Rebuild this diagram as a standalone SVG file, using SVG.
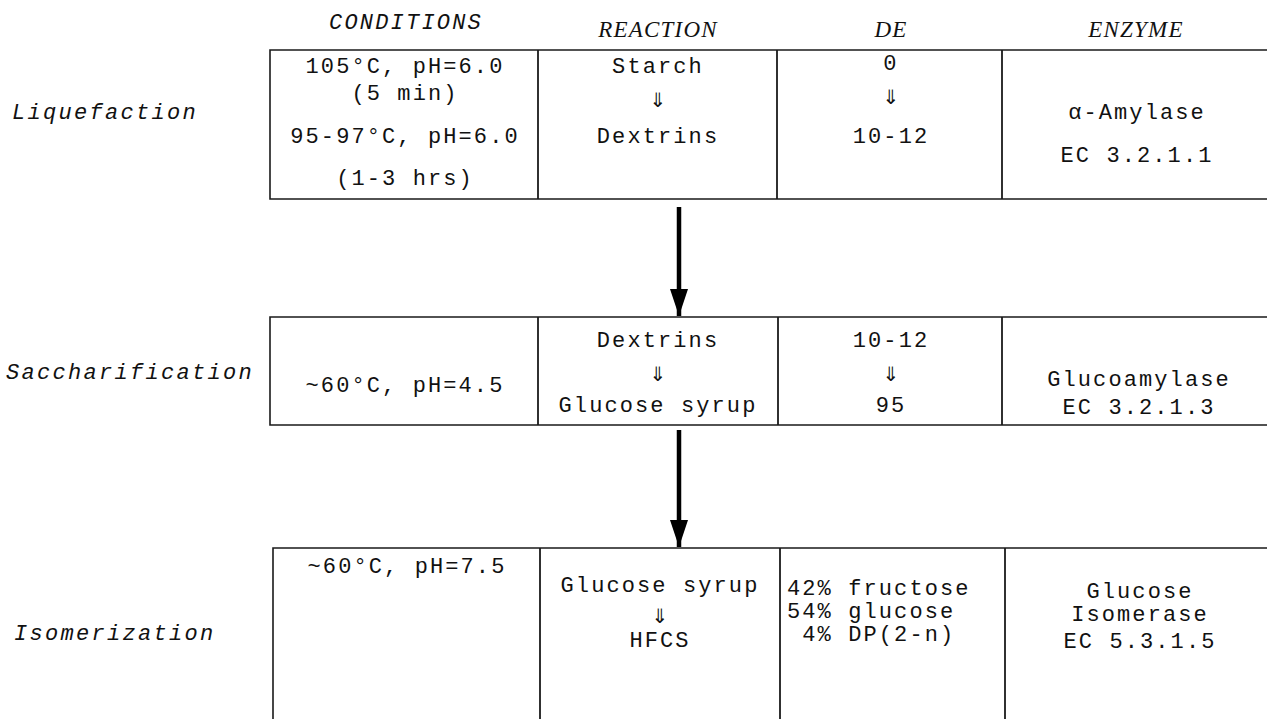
<svg xmlns="http://www.w3.org/2000/svg" width="1267" height="719" viewBox="0 0 1267 719">
  <defs>
    <style>
      .bg { fill: #ffffff; }
      .cell { fill: none; stroke: #1a1a1a; stroke-width: 1.6; }
      .div { stroke: #1a1a1a; stroke-width: 1.8; }
      .txt { font-family: "Liberation Mono", "Courier New", "DejaVu Sans Mono", monospace; font-size: 22px; letter-spacing: 2.1px; fill: #111; text-anchor: middle; }
      .lft { text-anchor: start; }
      .arr { font-family: "DejaVu Sans Mono", "Liberation Mono", monospace; font-size: 27px; fill: #111; text-anchor: middle; }
      .rowlab { font-family: "Liberation Mono", "Courier New", monospace; font-style: italic; font-size: 22px; letter-spacing: 2.3px; fill: #111; text-anchor: start; }
      .hmono { font-family: "Liberation Mono", "Courier New", monospace; font-style: italic; font-size: 22px; letter-spacing: 2.2px; fill: #111; text-anchor: middle; }
      .hserif { font-family: "Liberation Serif", "Times New Roman", serif; font-style: italic; font-size: 23px; letter-spacing: 1.2px; fill: #111; text-anchor: middle; }
      .flow { stroke: #000; stroke-width: 4.5; fill: none; }
    </style>
    <!-- solid triangular head pointing along the line direction -->
    <marker id="head" markerUnits="userSpaceOnUse" markerWidth="28" markerHeight="20" refX="27" refY="10" orient="auto" viewBox="0 0 28 20">
      <path d="M0,1 L27,10 L0,19 Z" fill="#000"/>
    </marker>
  </defs>

  <rect class="bg" x="0" y="0" width="1267" height="719"/>

  <!-- column headings -->
  <g id="headers">
    <text class="hmono" x="406" y="29">CONDITIONS</text>
    <text class="hserif" x="658" y="37">REACTION</text>
    <text class="hserif" x="891" y="37">DE</text>
    <text class="hserif" x="1136" y="37">ENZYME</text>
  </g>

  <!-- stage 1 -->
  <g id="liquefaction">
    <text class="rowlab" x="12" y="119">Liquefaction</text>
    <path class="cell" d="M1267,50 H270 V199 H1267"/>
    <line class="div" x1="538" y1="50" x2="538" y2="199"/>
    <line class="div" x1="777" y1="50" x2="777" y2="199"/>
    <line class="div" x1="1002" y1="50" x2="1002" y2="199"/>
    <text class="txt" x="405" y="73">105°C, pH=6.0</text>
    <text class="txt" x="405" y="100">(5 min)</text>
    <text class="txt" x="405" y="143">95-97°C, pH=6.0</text>
    <text class="txt" x="405" y="185">(1-3 hrs)</text>
    <text class="txt" x="658" y="73">Starch</text>
    <text class="arr" x="658" y="107">⇓</text>
    <text class="txt" x="658" y="143">Dextrins</text>
    <text class="txt" x="891" y="70">0</text>
    <text class="arr" x="891" y="104">⇓</text>
    <text class="txt" x="891" y="143">10-12</text>
    <text class="txt" x="1137" y="119">α-Amylase</text>
    <text class="txt" x="1137" y="162">EC 3.2.1.1</text>
  </g>

  <!-- stage 2 -->
  <g id="saccharification">
    <text class="rowlab" x="6" y="379">Saccharification</text>
    <path class="cell" d="M1267,317 H270 V425 H1267"/>
    <line class="div" x1="538" y1="317" x2="538" y2="425"/>
    <line class="div" x1="778" y1="317" x2="778" y2="425"/>
    <line class="div" x1="1002" y1="317" x2="1002" y2="425"/>
    <text class="txt" x="405" y="392">~60°C, pH=4.5</text>
    <text class="txt" x="658" y="347">Dextrins</text>
    <text class="arr" x="658" y="381">⇓</text>
    <text class="txt" x="658" y="412">Glucose syrup</text>
    <text class="txt" x="891" y="347">10-12</text>
    <text class="arr" x="891" y="381">⇓</text>
    <text class="txt" x="891" y="412">95</text>
    <text class="txt" x="1139" y="386">Glucoamylase</text>
    <text class="txt" x="1139" y="414">EC 3.2.1.3</text>
  </g>

  <!-- stage 3 -->
  <g id="isomerization">
    <text class="rowlab" x="14" y="640">Isomerization</text>
    <path class="cell" d="M1267,548 H273 V719"/>
    <line class="div" x1="540" y1="548" x2="540" y2="719"/>
    <line class="div" x1="780" y1="548" x2="780" y2="719"/>
    <line class="div" x1="1005" y1="548" x2="1005" y2="719"/>
    <text class="txt" x="407" y="573">~60°C, pH=7.5</text>
    <text class="txt" x="660" y="592">Glucose syrup</text>
    <text class="arr" x="660" y="623">⇓</text>
    <text class="txt" x="660" y="647">HFCS</text>
    <text class="txt lft" x="787" y="595">42% fructose</text>
    <text class="txt lft" x="787" y="618">54% glucose</text>
    <text class="txt lft" x="787" y="641" xml:space="preserve"> 4% DP(2-n)</text>
    <text class="txt" x="1140" y="598">Glucose</text>
    <text class="txt" x="1140" y="621">Isomerase</text>
    <text class="txt" x="1140" y="648">EC 5.3.1.5</text>
  </g>

  <!-- flow between stages -->
  <g id="connectors">
    <line class="flow" x1="679" y1="207" x2="679" y2="316" marker-end="url(#head)"/>
    <line class="flow" x1="679" y1="430" x2="679" y2="547" marker-end="url(#head)"/>
  </g>
</svg>
